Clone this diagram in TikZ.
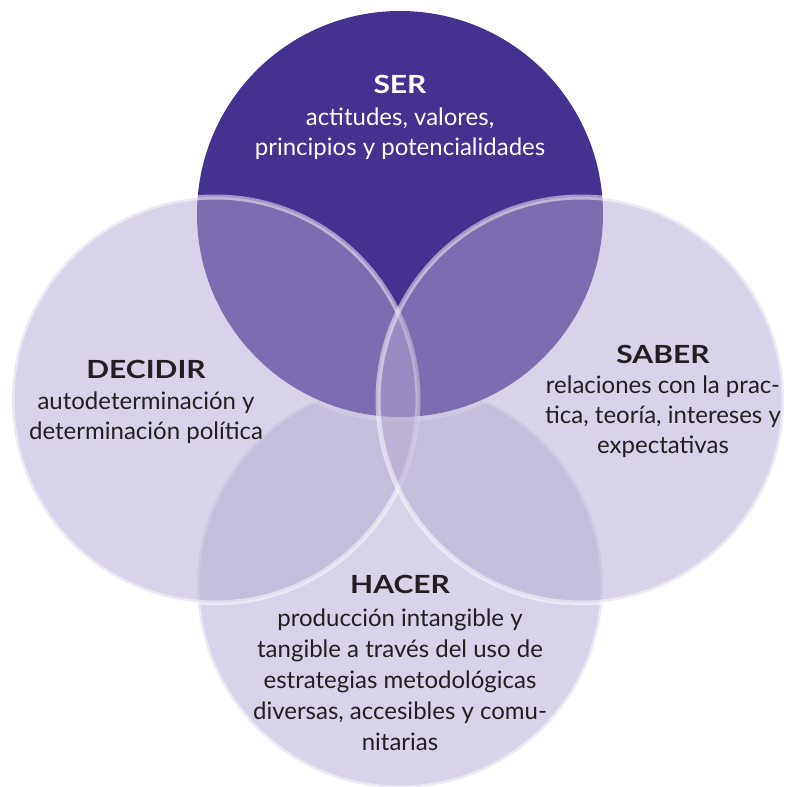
\documentclass[tikz,border=0pt]{standalone}
\usepackage{fontspec}
\setmainfont{Lato}
\newfontfamily\headfont{Lato}[FakeStretch=1.2]
\definecolor{serpurple}{RGB}{69,49,143}
\definecolor{lightpurple}{RGB}{179,169,210}
\definecolor{inktext}{RGB}{35,31,32}
\begin{document}
\begin{tikzpicture}[x=1pt,y=-1pt,
  lightcircle/.style={fill=lightpurple, fill opacity=0.5, draw=white, draw opacity=0.5, line width=5pt},
  body/.style={font=\fontsize{24}{30}\selectfont, text=inktext, anchor=base, inner sep=0pt},
  head/.style={font=\headfont\bfseries\fontsize{25}{30}\selectfont, text=inktext, anchor=base, inner sep=0pt},
]
\fill[white] (0,0) rectangle (786,787);
\useasboundingbox (0,0) rectangle (786,787);
% HACER circle (under SER)
\path[lightcircle] (400,585) circle[radius=203];
% SER circle
\draw[white, draw opacity=0.5, line width=10pt] (400,214) circle[radius=203];
\fill[serpurple] (400,214) circle[radius=203];
% DECIDIR and SABER circles
\path[lightcircle] (215,400) circle[radius=203];
\path[lightcircle] (581,400) circle[radius=203];
% SER text
\node[head, text=white] (ser) at (400,93) {SER};
\node[body, text=white] (ser1) at (400,125) {actitudes, valores,};
\node[body, text=white] (ser2) at (400,155) {principios y potencialidades};
% DECIDIR text
\node[head] (dec) at (146,378) {DECIDIR};
\node[body] (dec1) at (146,409) {autodeterminación y};
\node[body] (dec2) at (146,439) {determinación política};
% SABER text
\node[head] (sab) at (663,363) {SABER};
\node[body] (sab1) at (663,393) {relaciones con la prac-};
\node[body] (sab2) at (663,423) {tica, teoría, intereses y};
\node[body] (sab3) at (663,453) {expectativas};
% HACER text
\node[head] (hac) at (400,593) {HACER};
\node[body] (hac1) at (400,626) {producción intangible y};
\node[body] (hac2) at (400,657) {tangible a través del uso de};
\node[body] (hac3) at (400,688) {estrategias metodológicas};
\node[body] (hac4) at (400,719) {diversas, accesibles y comu-};
\node[body] (hac5) at (400,750) {nitarias};
\end{tikzpicture}
\end{document}
